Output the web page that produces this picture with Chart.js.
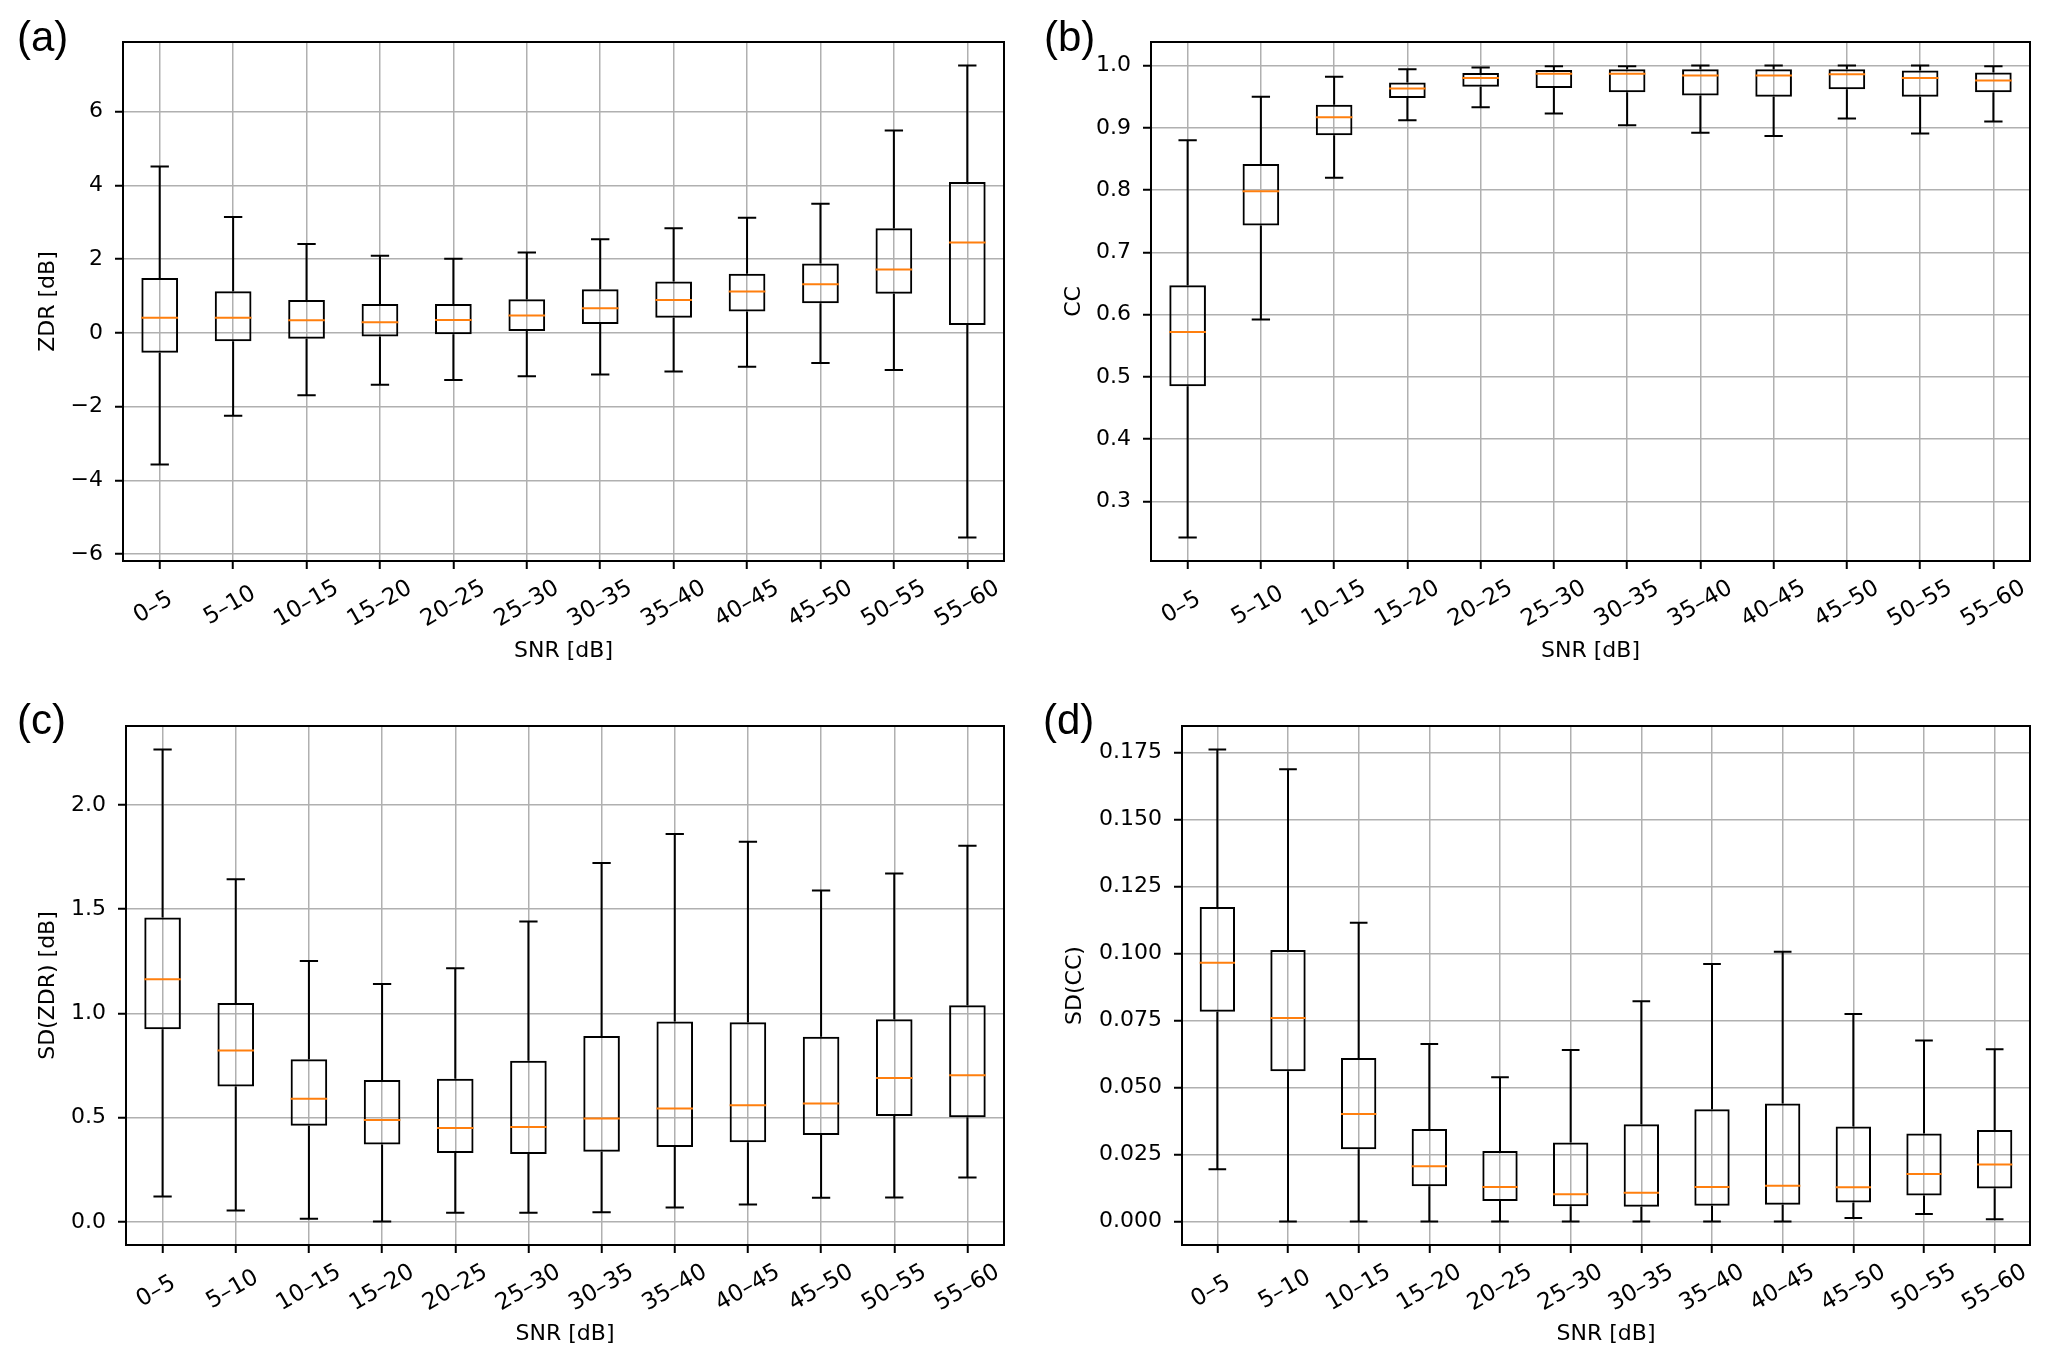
<!DOCTYPE html>
<html>
<head>
<meta charset="utf-8">
<title>SNR box plots</title>
<script src="https://cdn.jsdelivr.net/npm/chart.js@4.4.1/dist/chart.umd.min.js"></script>
<style>
    html, body { margin: 0; padding: 0; background: #fff; }
    body { width: 2067px; height: 1366px; position: relative; overflow: hidden; }
    .panel { position: absolute; }
</style>
</head>
<body>
<div class="panel" style="left:0;top:0;width:1034px;height:683px"><canvas id="chartA"></canvas></div>
<div class="panel" style="left:1034px;top:0;width:1033px;height:683px"><canvas id="chartB"></canvas></div>
<div class="panel" style="left:0;top:683px;width:1034px;height:683px"><canvas id="chartC"></canvas></div>
<div class="panel" style="left:1034px;top:683px;width:1033px;height:683px"><canvas id="chartD"></canvas></div>

<script>
// --- Data ---
const snrBins = ['0–5', '5–10', '10–15', '15–20', '20–25', '25–30', '30–35', '35–40', '40–45', '45–50', '50–55', '55–60'];

// (a) ZDR [dB]
const zdrLow  = [-3.57, -2.25, -1.69, -1.41, -1.28, -1.18, -1.13, -1.05, -0.92, -0.82, -1.01, -5.55];
const zdrQ1   = [-0.54, -0.23, -0.16, -0.10, -0.04, 0.05, 0.24, 0.41, 0.58, 0.80, 1.06, 0.21];
const zdrMed  = [0.41, 0.41, 0.34, 0.29, 0.35, 0.47, 0.67, 0.89, 1.12, 1.32, 1.72, 2.45];
const zdrQ3   = [1.49, 1.13, 0.89, 0.78, 0.78, 0.91, 1.18, 1.39, 1.60, 1.88, 2.84, 4.09];
const zdrHigh = [4.51, 3.14, 2.41, 2.09, 2.01, 2.18, 2.54, 2.84, 3.12, 3.50, 5.49, 7.25];
const zdrTicks = [-6, -4, -2, 0, 2, 4, 6];

// (b) CC
const ccLow  = [0.242, 0.592, 0.820, 0.912, 0.933, 0.923, 0.904, 0.892, 0.887, 0.915, 0.891, 0.910];
const ccQ1   = [0.485, 0.743, 0.888, 0.948, 0.966, 0.964, 0.957, 0.952, 0.950, 0.962, 0.950, 0.957];
const ccMed  = [0.572, 0.798, 0.917, 0.963, 0.980, 0.987, 0.987, 0.984, 0.984, 0.986, 0.980, 0.976];
const ccQ3   = [0.647, 0.842, 0.937, 0.973, 0.988, 0.993, 0.994, 0.994, 0.994, 0.994, 0.992, 0.989];
const ccHigh = [0.880, 0.950, 0.982, 0.994, 0.997, 0.999, 0.999, 1.000, 1.000, 1.000, 1.000, 0.999];
const ccTicks = [0.3, 0.4, 0.5, 0.6, 0.7, 0.8, 0.9, 1.0];

// (c) SD(ZDR) [dB]
const sdZdrLow  = [0.121, 0.054, 0.015, 0.002, 0.044, 0.044, 0.046, 0.069, 0.083, 0.115, 0.117, 0.213];
const sdZdrQ1   = [0.924, 0.649, 0.461, 0.371, 0.330, 0.325, 0.336, 0.359, 0.382, 0.417, 0.507, 0.501];
const sdZdrMed  = [1.164, 0.822, 0.590, 0.488, 0.450, 0.455, 0.496, 0.544, 0.559, 0.567, 0.690, 0.703];
const sdZdrQ3   = [1.460, 1.049, 0.780, 0.680, 0.686, 0.772, 0.891, 0.961, 0.957, 0.888, 0.972, 1.039];
const sdZdrHigh = [2.265, 1.643, 1.251, 1.141, 1.216, 1.441, 1.721, 1.860, 1.823, 1.589, 1.671, 1.804];
const sdZdrTicks = [0.0, 0.5, 1.0, 1.5, 2.0];

// (d) SD(CC)
const sdCcLow  = [0.0195, 0, 0, 0, 0, 0, 0, 0, 0, 0.0013, 0.0028, 0.0008];
const sdCcQ1   = [0.0782, 0.0560, 0.0269, 0.0131, 0.0076, 0.0057, 0.0055, 0.0058, 0.0062, 0.0071, 0.0097, 0.0123];
const sdCcMed  = [0.0965, 0.0759, 0.0401, 0.0206, 0.0128, 0.0101, 0.0107, 0.0128, 0.0133, 0.0127, 0.0177, 0.0212];
const sdCcQ3   = [0.1173, 0.1012, 0.0610, 0.0345, 0.0263, 0.0294, 0.0362, 0.0418, 0.0440, 0.0354, 0.0328, 0.0341];
const sdCcHigh = [0.1760, 0.1687, 0.1114, 0.0662, 0.0538, 0.0639, 0.0821, 0.0960, 0.1006, 0.0774, 0.0675, 0.0642];
const sdCcTicks = [0, 0.025, 0.05, 0.075, 0.1, 0.125, 0.15, 0.175];

// --- Style ---
const FONT = 'DejaVu Sans';
const gridGray = '#b0b0b0';
const medianOrange = '#ff7f0e';
Chart.defaults.font.family = FONT;
Chart.defaults.color = '#000';

const fmtMinus = v => (v < 0 ? '\u2212' + Math.abs(v) : String(v));

function makePanel(canvasId, p) {
    // matplotlib-like 5% margins around whisker range
    const lo = Math.min(...p.low);
    const hi = Math.max(...p.high);
    const pad = (hi - lo) * 0.05;

    const boxPlugin = {
        id: 'boxPlot_' + canvasId,
        afterDatasetsDraw(chart) {
            const { ctx } = chart;
            const y = chart.scales.y;
            const meta = chart.getDatasetMeta(0);
            ctx.save();
            ctx.lineWidth = 2;
            meta.data.forEach((bar, i) => {
                const x = bar.x;
                const half = bar.width / 2;
                const yLow = y.getPixelForValue(p.low[i]);
                const yQ1 = y.getPixelForValue(p.q1[i]);
                const yMed = y.getPixelForValue(p.med[i]);
                const yQ3 = y.getPixelForValue(p.q3[i]);
                const yHigh = y.getPixelForValue(p.high[i]);

                // whiskers + caps
                ctx.strokeStyle = '#000';
                ctx.beginPath();
                ctx.moveTo(x, yQ3); ctx.lineTo(x, yHigh);
                ctx.moveTo(x, yQ1); ctx.lineTo(x, yLow);
                ctx.moveTo(x - half / 2, yHigh); ctx.lineTo(x + half / 2, yHigh);
                ctx.moveTo(x - half / 2, yLow); ctx.lineTo(x + half / 2, yLow);
                ctx.stroke();

                // median
                ctx.strokeStyle = medianOrange;
                ctx.beginPath();
                ctx.moveTo(x - half, yMed); ctx.lineTo(x + half, yMed);
                ctx.stroke();
            });
            ctx.restore();
        },
        afterDraw(chart) {
            const { ctx, chartArea } = chart;
            const xs = chart.scales.x;
            ctx.save();

            // frame
            ctx.strokeStyle = '#000';
            ctx.lineWidth = 2;
            ctx.strokeRect(chartArea.left, chartArea.top, chartArea.right - chartArea.left, chartArea.bottom - chartArea.top);

            // rotated category labels (centred like matplotlib)
            ctx.font = '23px "' + FONT + '"';
            ctx.fillStyle = '#000';
            ctx.textAlign = 'center';
            ctx.textBaseline = 'middle';
            snrBins.forEach((lab, i) => {
                const px = xs.getPixelForTick(i);
                ctx.save();
                ctx.translate(px, chartArea.bottom + 43);
                ctx.rotate(-Math.PI / 6);
                ctx.fillText(lab.padEnd(5, ' '), 0, 0);
                ctx.restore();
            });

            // panel letter
            ctx.font = '42px "Liberation Sans"';
            ctx.textAlign = 'left';
            ctx.textBaseline = 'alphabetic';
            ctx.fillText(p.letter, p.letterX, 51);
            ctx.restore();
        }
    };

    const gridOpts = {
        color: gridGray,
        lineWidth: 1.5,
        drawTicks: true,
        tickLength: 8,
        tickColor: '#000',
        tickWidth: 2
    };

    return new Chart(document.getElementById(canvasId), {
        type: 'bar',
        data: {
            labels: snrBins,
            datasets: [{
                data: p.q1.map((v, i) => [v, p.q3[i]]),
                backgroundColor: 'rgba(0,0,0,0)',
                borderColor: '#000',
                borderWidth: 2,
                borderSkipped: false,
                barPercentage: 0.5,
                categoryPercentage: 1.0
            }]
        },
        options: {
            responsive: true,
            maintainAspectRatio: false,
            animation: false,
            events: [],
            layout: { padding: { top: p.top, right: p.right, bottom: 0, left: 0 } },
            plugins: {
                legend: { display: false },
                tooltip: { enabled: false }
            },
            scales: {
                x: {
                    type: 'category',
                    offset: true,
                    grid: { ...gridOpts, offset: false },
                    border: { display: false },
                    ticks: { display: false },
                    title: {
                        display: true,
                        text: 'SNR [dB]',
                        color: '#000',
                        font: { family: FONT, size: 22 },
                        padding: { top: 0, bottom: 19 }
                    },
                    afterFit: s => { s.height = p.xAxisH; }
                },
                y: {
                    type: 'linear',
                    min: lo - pad,
                    max: hi + pad,
                    grid: gridOpts,
                    border: { display: false },
                    afterBuildTicks: s => { s.ticks = p.ticks.map(v => ({ value: v })); },
                    ticks: {
                        color: '#000',
                        font: { family: FONT, size: 22 },
                        padding: 12,
                        callback: v => p.fmt(v)
                    },
                    title: {
                        display: true,
                        text: p.yTitle,
                        color: '#000',
                        font: { family: FONT, size: 22 },
                        padding: { top: p.yTitleOff, bottom: 0 }
                    },
                    afterFit: s => { s.width = p.yAxisW; }
                }
            }
        },
        plugins: [boxPlugin]
    });
}

makePanel('chartA', {
    low: zdrLow, q1: zdrQ1, med: zdrMed, q3: zdrQ3, high: zdrHigh,
    ticks: zdrTicks, fmt: v => fmtMinus(Math.round(v)),
    yTitle: 'ZDR [dB]', letter: '(a)', letterX: 17,
    top: 42, right: 30, yAxisW: 123, xAxisH: 122, yTitleOff: 35
});

makePanel('chartB', {
    low: ccLow, q1: ccQ1, med: ccMed, q3: ccQ3, high: ccHigh,
    ticks: ccTicks, fmt: v => v.toFixed(1),
    yTitle: 'CC', letter: '(b)', letterX: 10,
    top: 42, right: 37, yAxisW: 117, xAxisH: 122, yTitleOff: 27
});

makePanel('chartC', {
    low: sdZdrLow, q1: sdZdrQ1, med: sdZdrMed, q3: sdZdrQ3, high: sdZdrHigh,
    ticks: sdZdrTicks, fmt: v => v.toFixed(1),
    yTitle: 'SD(ZDR) [dB]', letter: '(c)', letterX: 17,
    top: 43, right: 30, yAxisW: 126, xAxisH: 121, yTitleOff: 35
});

makePanel('chartD', {
    low: sdCcLow, q1: sdCcQ1, med: sdCcMed, q3: sdCcQ3, high: sdCcHigh,
    ticks: sdCcTicks, fmt: v => v.toFixed(3),
    yTitle: 'SD(CC)', letter: '(d)', letterX: 9,
    top: 43, right: 37, yAxisW: 148, xAxisH: 121, yTitleOff: 28
});
</script>
</body>
</html>
